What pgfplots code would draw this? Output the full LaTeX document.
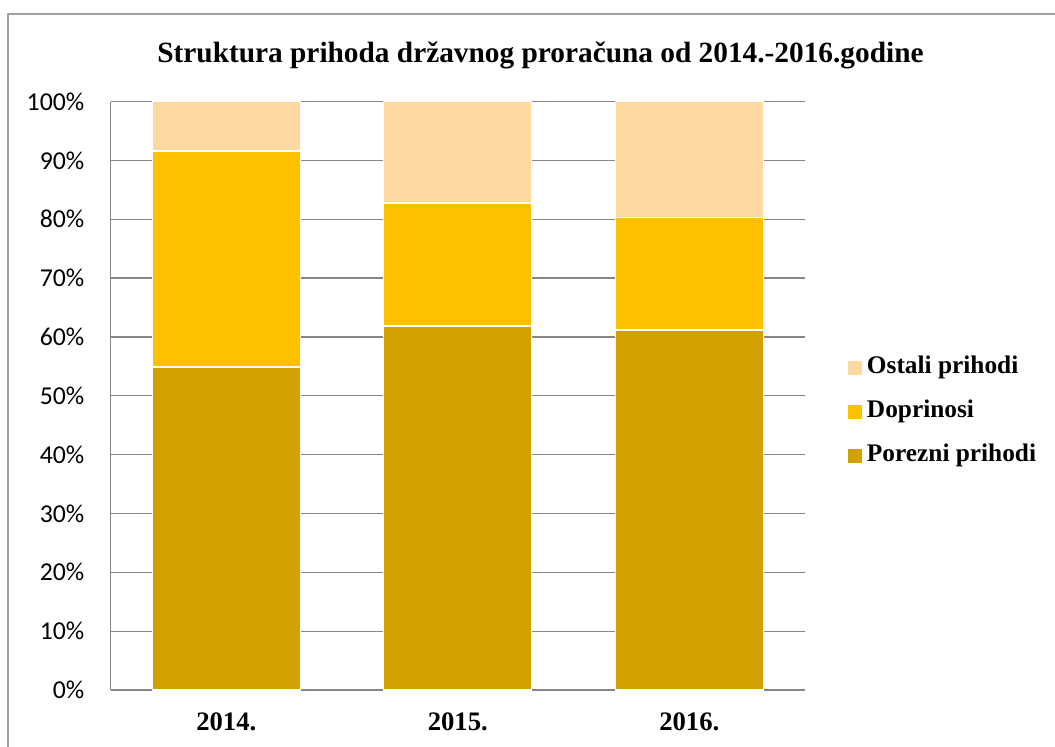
\documentclass[border=0pt]{standalone}
\usepackage{pgfplots}
\pgfplotsset{compat=1.18}
\usepackage{pgfplotstable}
\usepackage{fontspec}
\setmainfont{Liberation Serif}
\newfontfamily\carlito{Carlito}
\definecolor{ostali}{HTML}{FDD8A0}
\definecolor{dopr}{HTML}{FFC000}
\definecolor{porez}{HTML}{D4A000}
\definecolor{gridc}{HTML}{868686}
\definecolor{borderc}{HTML}{A0A0A0}
\pgfplotstableread{
x porez dopr ostali
0 54.9 36.7 8.4
1 61.85 20.9 17.25
2 61.2 19.05 19.75
}\datatable
\begin{document}
\begin{tikzpicture}
\begin{scope}[x=0.75pt,y=-0.75pt]
\path[use as bounding box] (0,0) rectangle (1055,746);
\draw[borderc, line width=1.2pt] (8,14) rectangle (1075,770);
\node[font=\fontsize{22}{26}\selectfont\bfseries, anchor=base, inner sep=0pt] at (540.5,62) {Struktura prihoda državnog proračuna od 2014.-2016.godine};
\end{scope}
\begin{axis}[
  at={(82.875pt,-517.5pt)}, anchor=south west,
  scale only axis, width=520.875pt, height=441.375pt,
  ybar stacked, bar width=111pt,
  xmin=-0.5, xmax=2.5, ymin=0, ymax=100,
  xtick={0,1,2}, xticklabels={2014.,2015.,2016.},
  ytick={0,10,...,100},
  yticklabels={0\%,10\%,20\%,30\%,40\%,50\%,60\%,70\%,80\%,90\%,100\%},
  axis x line=bottom, axis y line=left,
  axis line style={-, draw=gridc, line width=0.9pt},
  ymajorgrids, grid style={draw=gridc, line width=0.9pt},
  major tick length=0pt, tick style={draw=none},
  yticklabel style={font=\carlito\fontsize{19.3}{22}\selectfont, inner sep=0pt, xshift=-19.5pt},
  xticklabel style={font=\bfseries\fontsize{20}{24}\selectfont, inner sep=0pt, anchor=north, yshift=-16.5pt},
  legend style={at={(1.062,0.474)}, anchor=west, draw=none, fill=none, inner sep=0pt,
    font=\bfseries\fontsize{19}{22}\selectfont,
    nodes={inner sep=0pt, text height=13pt, text depth=4pt, anchor=base west},
    row sep=16pt},
  legend cell align=left,
  reverse legend,
  legend image code/.code={\fill[#1,draw=none] (0pt,-1.2pt) rectangle (10.5pt,9.3pt);},
]
\addplot[fill=porez, draw=white, line width=1pt] table[x=x,y=porez]{\datatable};
\addlegendentry{\hspace{3.5pt}Porezni prihodi}
\addplot[fill=dopr, draw=white, line width=1pt] table[x=x,y=dopr]{\datatable};
\addlegendentry{\hspace{3.5pt}Doprinosi}
\addplot[fill=ostali, draw=white, line width=1pt] table[x=x,y=ostali]{\datatable};
\addlegendentry{\hspace{3.5pt}Ostali prihodi}
\end{axis}
\end{tikzpicture}
\end{document}
